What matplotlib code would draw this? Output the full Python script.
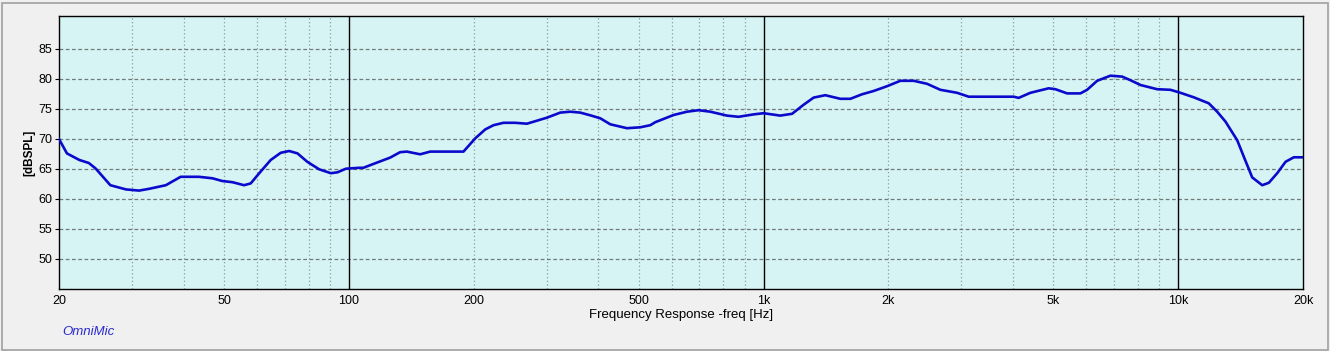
import numpy as np
import matplotlib.pyplot as plt
from matplotlib.patches import Rectangle
from matplotlib.ticker import FixedLocator, NullFormatter

# Frequency response
freq = [20, 20.9, 22.4, 23.6, 24.5, 26.6, 29.0, 31.2, 33.0, 36.2, 39.3, 43.5,
        46.9, 49.5, 52.4, 55.9, 58.0, 60.8, 64.8, 68.5, 71.8, 75.2, 79.4, 84.8,
        90.5, 93.9, 98.4, 105.9, 108.4, 115.7, 125.8, 132.9, 138.0, 148.6,
        157.1, 189.0, 201.7, 213.3, 223.3, 236.0, 251.9, 268.8, 284.2, 300.3,
        323.5, 341.9, 361.4, 382.1, 404.0, 427.1, 468.5, 504.3, 533.3, 548.2,
        606.9, 653.9, 697.1, 744.2, 816.2, 870.6, 946.2, 1000, 1097, 1172,
        1249, 1321, 1409, 1532, 1620, 1728, 1843, 1986, 2138, 2302, 2480,
        2670, 2930, 3125, 4012, 4124, 4402, 4872, 5057, 5398, 5810, 6031,
        6377, 6864, 7326, 7671, 8110, 8896, 9580, 10128, 10904, 11851, 12418,
        13004, 13878, 14397, 15084, 15948, 16543, 17331, 18153, 19005, 20000]
spl = [70.0, 67.6, 66.5, 66.0, 65.1, 62.3, 61.6, 61.4, 61.7, 62.3, 63.7, 63.7,
       63.45, 63.0, 62.8, 62.3, 62.6, 64.3, 66.5, 67.7, 68.0, 67.6, 66.2, 64.95,
       64.3, 64.45, 65.05, 65.2, 65.2, 65.95, 66.9, 67.8, 67.9, 67.45,
       67.9, 67.9, 70.1, 71.6, 72.3, 72.7, 72.7, 72.55, 73.05, 73.55,
       74.4, 74.55, 74.4, 73.95, 73.45, 72.45, 71.8, 71.95, 72.3, 72.8,
       74.0, 74.55, 74.8, 74.55, 73.9, 73.7, 74.1, 74.3, 73.9, 74.2,
       75.7, 76.9, 77.3, 76.7, 76.7, 77.45, 78.0, 78.8, 79.7, 79.7, 79.2,
       78.2, 77.7, 77.05, 77.05, 76.85, 77.7, 78.45, 78.3, 77.6, 77.6, 78.2,
       79.7, 80.55, 80.4, 79.8, 79.0, 78.3, 78.2, 77.7, 76.95, 75.95, 74.55,
       72.9, 69.8, 67.05, 63.6, 62.3, 62.7, 64.3, 66.2, 66.95, 66.95]

yticks = [50, 55, 60, 65, 70, 75, 80, 85]
xticks = [20, 50, 100, 200, 500, 1000, 2000, 5000, 10000, 20000]
xlabels = ['20', '50', '100', '200', '500', '1k', '2k', '5k', '10k', '20k']
decades = [100, 1000, 10000]

plt.rcParams['font.family'] = ['Liberation Sans', 'DejaVu Sans']

W, H = 1330, 351
fig = plt.figure(figsize=(W / 100, H / 100), dpi=100, facecolor='#f0f0f0')
fig.patches.append(Rectangle((1.5 / W, 1.5 / H), (W - 4) / W, (H - 4) / H,
                             transform=fig.transFigure, fill=False,
                             edgecolor='#a0a0a0', linewidth=1.2))
ax = fig.add_axes([59 / W, (H - 289) / H, (1303 - 59) / W, (289 - 16) / H])
ax.set_facecolor('#d7f4f4')
ax.set_xscale('log')
ax.set_xlim(20, 20000)
ax.set_ylim(45, 90.5)

# grid
minor = [m * d for d in (10, 100, 1000, 10000) for m in range(2, 10)
         if 20 < m * d < 20000]
for f in minor:
    ax.axvline(f, color='#8c9c9c', linestyle=(0, (1, 2)), linewidth=0.9, zorder=1)
for y in yticks:
    ax.axhline(y, color='#707a7a', linestyle=(0, (3, 2)), linewidth=0.9, zorder=1)
for d in decades:
    ax.axvline(d, color='black', linewidth=1.0, zorder=2)

ax.plot(freq, spl, color='#0a0acc', linewidth=1.9, zorder=3)

ax.xaxis.set_major_locator(FixedLocator(xticks))
ax.xaxis.set_minor_formatter(NullFormatter())
ax.set_xticks(xticks)
ax.set_xticklabels(xlabels)
ax.tick_params(axis='x', which='both', length=0, pad=4, labelsize=9)
ax.set_yticks(yticks)
ax.tick_params(axis='y', length=3, width=0.8, pad=2, labelsize=9)

for s in ax.spines.values():
    s.set_color('black')
    s.set_linewidth(1.0)

ax.set_xlabel('Frequency Response -freq [Hz]', fontsize=9.5, labelpad=2)
ax.set_ylabel('[dBSPL]', fontsize=8.5, fontweight='bold')
ax.yaxis.set_label_coords((35 - 59) / (1303 - 59), 0.5)
fig.text(62 / W, 1 - 332 / H, 'OmniMic', color='#2a2acc', fontsize=9.5,
         style='italic', va='center')

fig.savefig('out.png', dpi=100, facecolor=fig.get_facecolor())
